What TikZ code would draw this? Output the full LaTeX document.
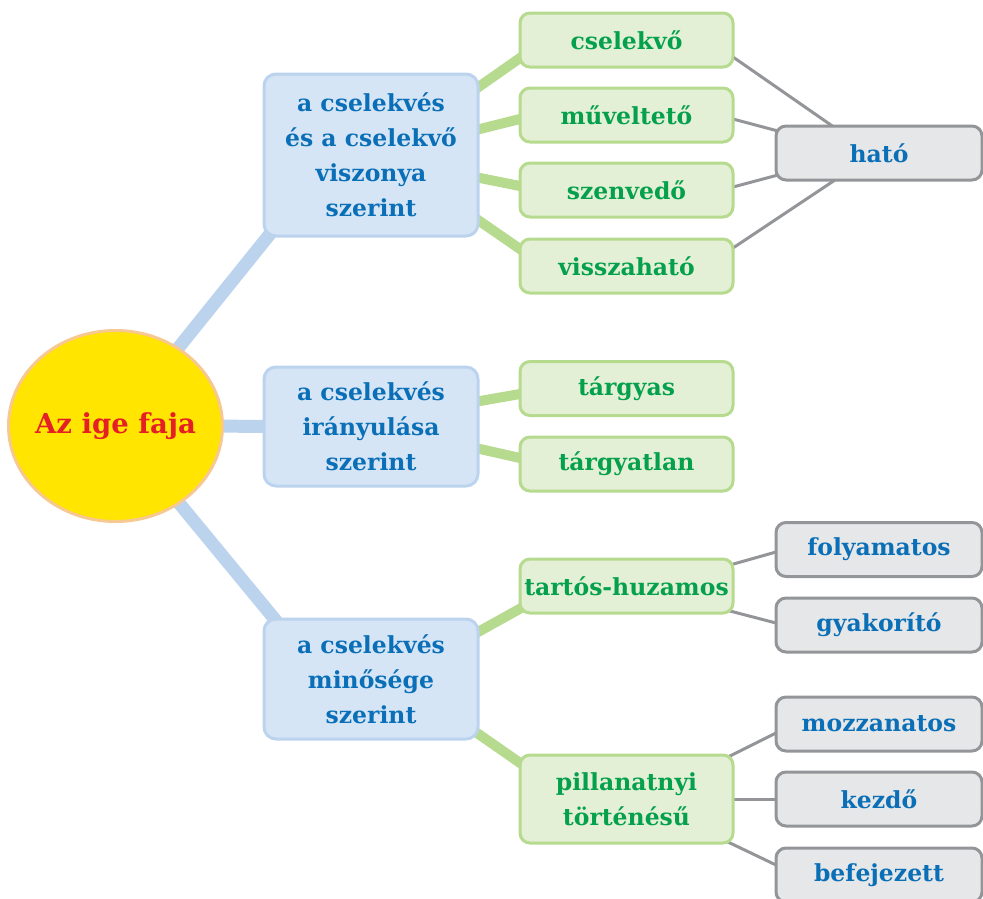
\documentclass[tikz,border=0pt]{standalone}
\usepackage{fontspec}
\setmainfont{DejaVu Serif}
\usetikzlibrary{shapes.geometric,calc,backgrounds}
\definecolor{yel}{HTML}{FFE500}
\definecolor{yelb}{HTML}{F8C891}
\definecolor{azred}{HTML}{E41F26}
\definecolor{bfill}{HTML}{D5E5F6}
\definecolor{bline}{HTML}{BCD3EE}
\definecolor{btext}{HTML}{0A6FB7}
\definecolor{gfill}{HTML}{E4F0D6}
\definecolor{gline}{HTML}{B6DA8E}
\definecolor{gtext}{HTML}{04A04B}
\definecolor{grfill}{HTML}{E6E7E8}
\definecolor{grline}{HTML}{939598}
\tikzset{
  boxtext/.style={font=\bfseries\fontsize{23.5}{35}\selectfont, align=center, inner sep=0pt},
  bluebox/.style={boxtext, draw=bline, line width=3pt, fill=bfill, rounded corners=12pt, minimum width=214pt, text=btext},
  greenbox/.style={boxtext, draw=gline, line width=3pt, fill=gfill, rounded corners=10pt, minimum width=213pt, minimum height=54pt, text=gtext},
  greybox/.style={boxtext, draw=grline, line width=3pt, fill=grfill, rounded corners=10pt, minimum width=206pt, minimum height=54pt, text=btext},
  bconn/.style={draw=bline, line width=13pt},
  gconn/.style={draw=gline, line width=10pt},
  grconn/.style={draw=grline, line width=3pt},
}
\begin{document}
\begin{tikzpicture}[x=1pt,y=-1pt]
\useasboundingbox (0,0) rectangle (983,898);
\clip (0,0) rectangle (983,898);
% central ellipse
\node[ellipse, draw=yelb, line width=3pt, fill=yel, minimum width=214pt, minimum height=191pt,
  inner xsep=-12pt, inner ysep=0pt,
  text=azred, font=\bfseries\fontsize{27.5}{30}\selectfont] (az) at (115.5,426) {Az ige faja};
% blue boxes
\node[bluebox, minimum height=162pt] (b1) at (371,155) {a cselekvés\\és a cselekvő\\viszonya\\szerint};
\node[bluebox, minimum height=119pt] (b2) at (371,426.5) {a cselekvés\\irányulása\\szerint};
\node[bluebox, minimum height=120pt] (b3) at (371,679) {a cselekvés\\minősége\\szerint};
% green boxes
\node[greenbox] (g1) at (626.5,40) {cselekvő};
\node[greenbox] (g2) at (626.5,115) {műveltető};
\node[greenbox] (g3) at (626.5,190) {szenvedő};
\node[greenbox] (g4) at (626.5,266) {visszaható};
\node[greenbox] (g5) at (626.5,388.5) {tárgyas};
\node[greenbox] (g6) at (626.5,464) {tárgyatlan};
\node[greenbox] (g7) at (626.5,586) {tartós-huzamos};
\node[greenbox, minimum height=88pt] (g8) at (626.5,799) {pillanatnyi\\történésű};
% grey boxes
\node[greybox] (h) at (879,153) {ható};
\node[greybox] (f) at (879,549.5) {folyamatos};
\node[greybox] (gy) at (879,625) {gyakorító};
\node[greybox] (m) at (879,724) {mozzanatos};
\node[greybox] (k) at (879,799) {kezdő};
\node[greybox] (bf) at (879,875) {befejezett};
\begin{scope}[on background layer]
% blue connectors
\draw[bconn] (az.center) -- ($(b1)+(-88.7,63.7)$);
\draw[bconn] (az.center) -- (b2.center);
\draw[bconn] (az.center) -- ($(b3)+(-88.7,-50.6)$);
% green connectors
\draw[gconn] ($(b1)+(99,-62)$) -- ($(g1)+(-96.5,11)$);
\draw[gconn] ($(b1)+(99,-23.5)$) -- ($(g2)+(-96.5,1.5)$);
\draw[gconn] ($(b1)+(99,21)$) -- ($(g3)+(-96.5,-2)$);
\draw[gconn] ($(b1)+(96.5,57.75)$) -- ($(g4)+(-96,-9.75)$);
\draw[gconn] ($(b2)+(99,-23.75)$) -- ($(g5)+(-96.5,3.75)$);
\draw[gconn] ($(b2)+(99,20.25)$) -- ($(g6)+(-96.5,-3.75)$);
\draw[gconn] ($(b3)+(95.75,-40.75)$) -- ($(g7)+(-92.25,14.75)$);
\draw[gconn] ($(b3)+(94.5,46)$) -- ($(g8)+(-92,-26)$);
% grey connectors
\draw[grconn] ($(g1)+(97,10.4)$) -- ($(h)+(-41.5,-23.4)$);
\draw[grconn] ($(g2)+(97.5,1.6)$) -- ($(h)+(-92,-19.6)$);
\draw[grconn] ($(g3)+(97.5,-0.6)$) -- ($(h)+(-92,19.6)$);
\draw[grconn] ($(g4)+(96.6,-11.4)$) -- ($(h)+(-37.1,22.4)$);
\draw[grconn] ($(g7)+(94.3,-18.4)$) -- ($(f)+(-93.8,-0.1)$);
\draw[grconn] ($(g7)+(94.3,22.6)$) -- ($(gy)+(-93.8,0.4)$);
\draw[grconn] ($(g8)+(91.9,-37.2)$) -- ($(m)+(-93.4,4.2)$);
\draw[grconn] (g8.center) -- (k.center);
\draw[grconn] ($(g8)+(91.9,38.4)$) -- ($(bf)+(-93.4,-5.4)$);
\end{scope}
\end{tikzpicture}
\end{document}
